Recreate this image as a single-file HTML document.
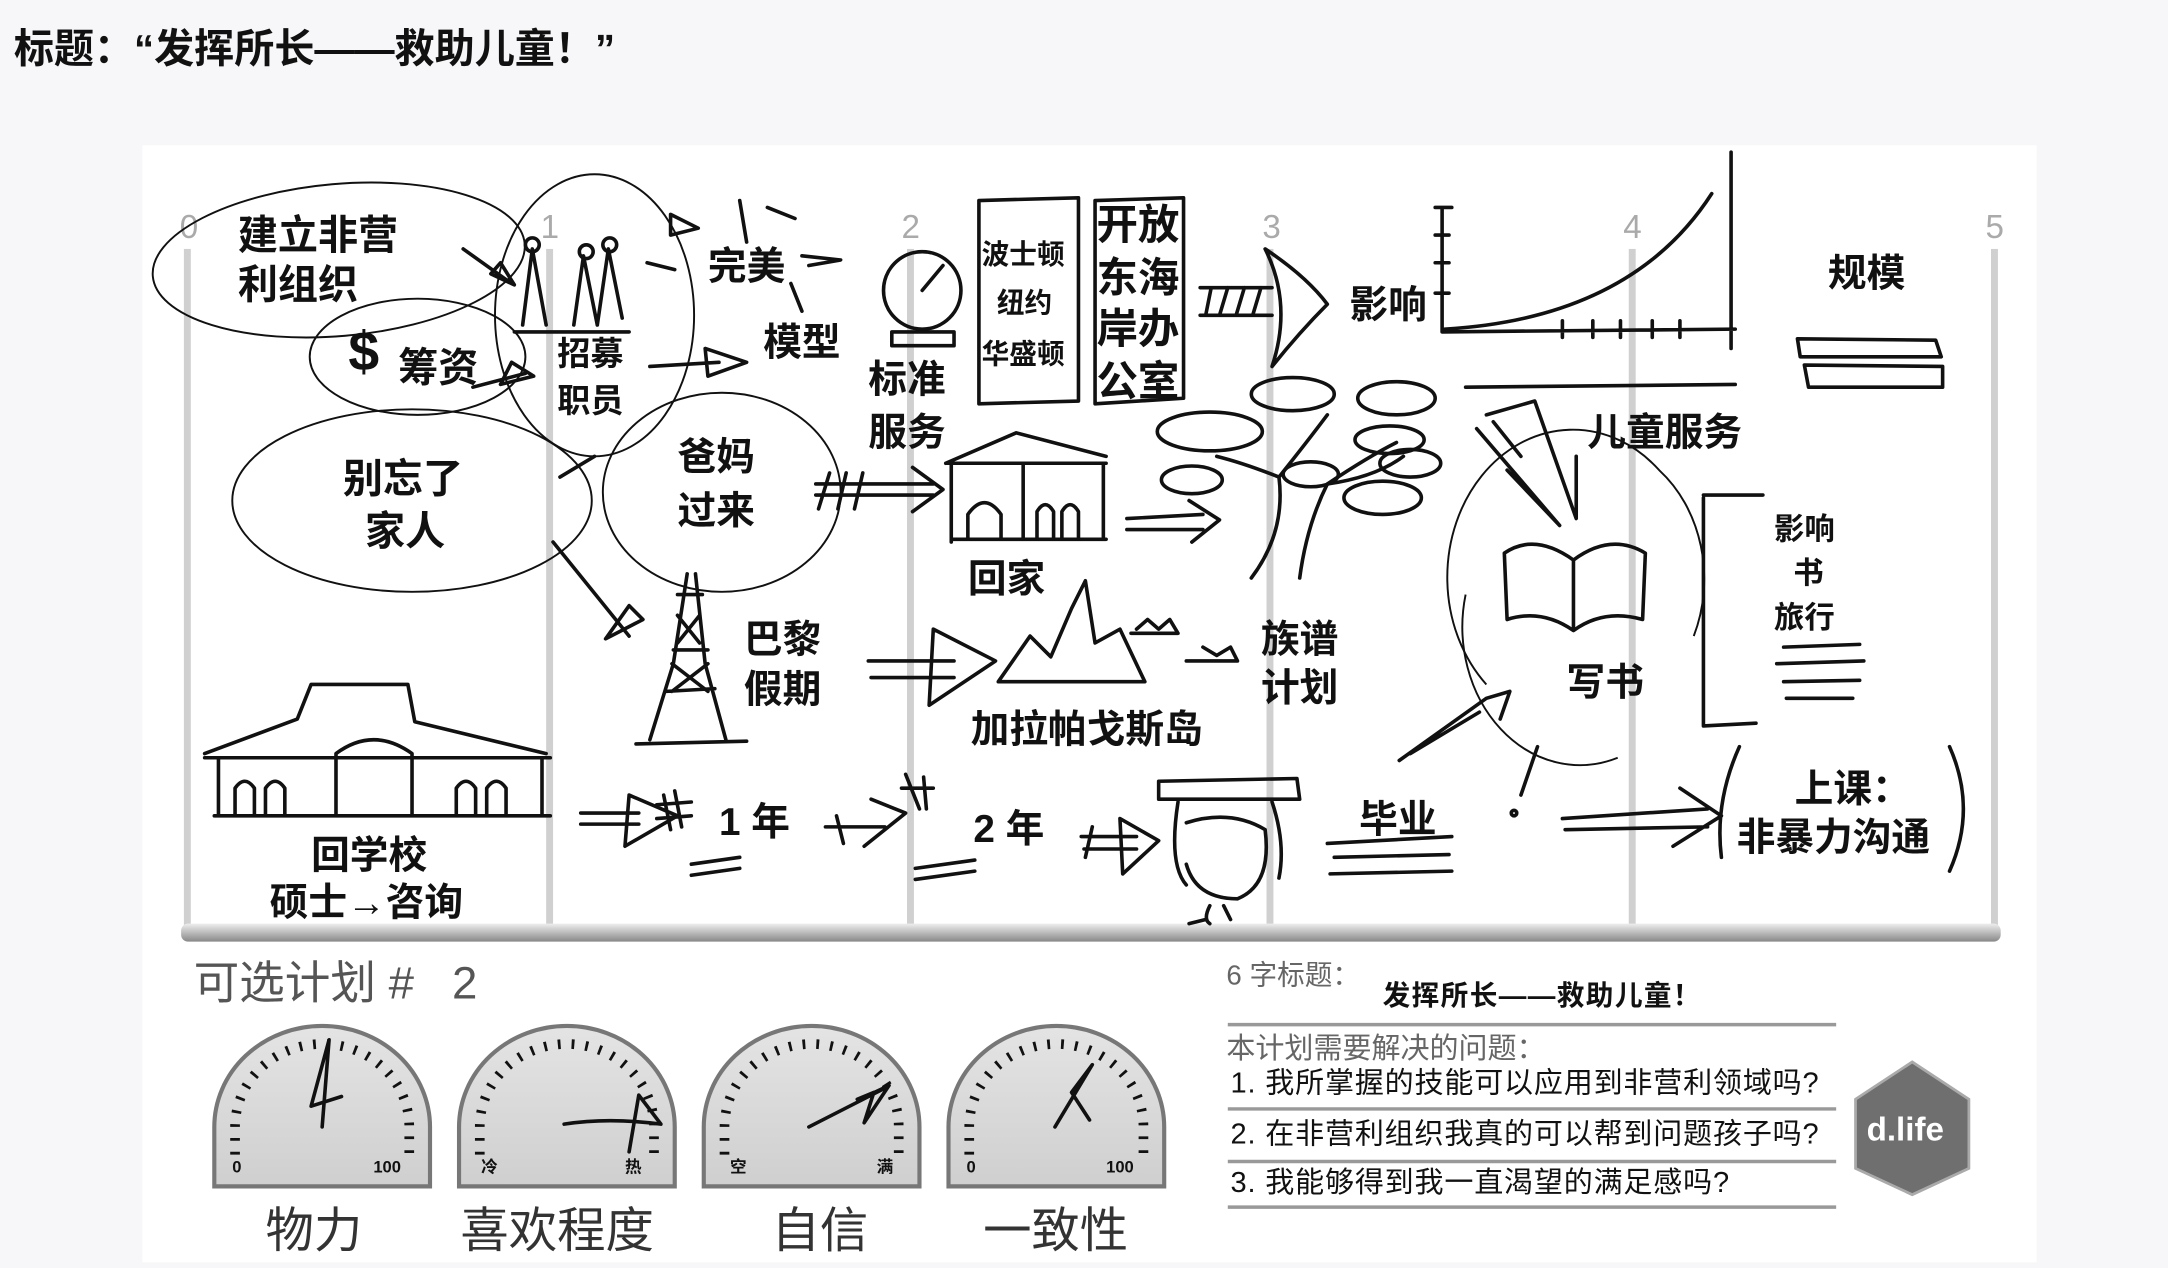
<!DOCTYPE html>
<html><head><meta charset="utf-8">
<style>
html,body{margin:0;padding:0;background:#f7f7f9;}
svg{display:block;}
.t{font-family:"Liberation Sans","Noto Sans CJK SC","WenQuanYi Zen Hei",sans-serif;font-weight:bold;fill:#111;}
.n{font-family:"Liberation Sans","Noto Sans CJK SC",sans-serif;font-weight:normal;}
.s{fill:none;stroke:#111;stroke-width:2.6;stroke-linecap:round;stroke-linejoin:round;}
.th{fill:none;stroke:#111;stroke-width:1.4;}
</style></head>
<body>
<svg width="2168" height="1268" viewBox="0 0 1568 917" xmlns="http://www.w3.org/2000/svg">
<rect width="1568" height="917" fill="#f7f7f9"/>
<text x="10" y="45" class="t" font-size="29">标题：“发挥所长——救助儿童！”</text>
<rect x="103" y="105" width="1370" height="808" fill="#fff"/>

<g fill="#d0d0d0">
<rect x="133" y="180" width="5" height="495"/><rect x="395" y="180" width="5" height="495"/>
<rect x="656" y="180" width="5" height="495"/><rect x="916" y="180" width="5" height="495"/>
<rect x="1178" y="180" width="5" height="495"/><rect x="1440" y="180" width="5" height="495"/>
</g>
<defs><linearGradient id="bar" x1="0" y1="0" x2="0" y2="1"><stop offset="0" stop-color="#eee"/><stop offset="0.5" stop-color="#bbb"/><stop offset="1" stop-color="#888"/></linearGradient>
<linearGradient id="g" x1="0" y1="0" x2="0" y2="1"><stop offset="0" stop-color="#e4e4e4"/><stop offset="1" stop-color="#cfcfcf"/></linearGradient></defs>
<rect x="131" y="668" width="1316" height="13" rx="5" fill="url(#bar)"/>
<g class="n" font-size="24" fill="#aaa">
<text x="130" y="172">0</text><text x="391" y="172">1</text><text x="652" y="172">2</text><text x="913" y="172">3</text><text x="1174" y="172">4</text><text x="1436" y="172">5</text>
</g>

<g class="th">
<ellipse cx="245" cy="188" rx="135" ry="55" transform="rotate(-5 245 188)"/>
<ellipse cx="302" cy="258" rx="78" ry="42"/>
<ellipse cx="430" cy="228" rx="72" ry="102"/>
<ellipse cx="298" cy="362" rx="130" ry="66"/>
<ellipse cx="522" cy="356" rx="86" ry="72"/>
<path d="M1075 495 A85 100 0 0 1 1200 340 A85 100 0 0 1 1225 460"/>
<path d="M1060 430 A85 100 0 0 0 1170 548"/>
</g>

<g class="t" font-size="29">
<text x="172" y="180">建立非营</text><text x="172" y="216">利组织</text>
<text x="288" y="276">筹资</text>
<text x="248" y="356">别忘了</text><text x="264" y="394">家人</text>
</g>
<text x="252" y="268" class="t" font-size="40" font-weight="normal">$</text>
<g class="t" font-size="24">
<text x="403" y="264">招募</text><text x="403" y="298">职员</text>
</g>
<g class="t" font-size="28">
<text x="512" y="202">完美</text><text x="552" y="257">模型</text>
<text x="628" y="284">标准</text><text x="628" y="322">服务</text>
<text x="490" y="340">爸妈</text><text x="490" y="379">过来</text>
<text x="700" y="428">回家</text>
<text x="538" y="472">巴黎</text><text x="538" y="508">假期</text>
<text x="702" y="537">加拉帕戈斯岛</text>
<text x="912" y="472">族谱</text><text x="912" y="507">计划</text>
<text x="225" y="628">回学校</text>
<text x="195" y="662">硕士→咨询</text>
<text x="520" y="604">1 年</text><text x="704" y="609">2 年</text>
<text x="983" y="602">毕业</text>
<text x="976" y="230">影响</text>
<text x="1322" y="207">规模</text>
<text x="1148" y="322">儿童服务</text>
<text x="1133" y="503">写书</text>
<text x="1298" y="580">上课：</text>
<text x="1256" y="615">非暴力沟通</text>
</g>
<g class="t" font-size="22">
<text x="1283" y="390">影响</text><text x="1297" y="422">书</text><text x="1283" y="454">旅行</text>
</g>
<path class="s" d="M708 145 L780 143 L780 290 L708 292 Z"/>
<path class="s" d="M792 145 L856 143 L856 288 L792 292 Z"/>
<g class="t" font-size="20">
<text x="710" y="191">波士顿</text><text x="721" y="226">纽约</text><text x="710" y="263">华盛顿</text>
</g>
<g class="t" font-size="30">
<text x="793" y="173">开放</text><text x="793" y="211">东海</text><text x="793" y="248">岸办</text><text x="793" y="286">公室</text>
</g>

<g class="s">
<circle cx="667" cy="210" r="28"/><path d="M667 210 L682 192 M645 240 L690 240 L690 250 L645 250 Z"/>
<path d="M378 235 L385 180 L395 235 M415 235 L422 185 L432 235 M432 235 L440 180 L450 230 M372 240 L455 240"/>
<circle cx="385" cy="177" r="5"/><circle cx="424" cy="182" r="5"/><circle cx="441" cy="177" r="5"/>
<path d="M335 180 L370 205 M355 198 L372 206 L362 190Z"/>
<path d="M470 265 L520 262 M510 252 L540 262 L512 272Z"/>
<path d="M342 280 L380 270 M362 278 L386 272 L370 262Z"/>
<path d="M485 155 L505 165 L485 170Z M555 150 L575 158 M580 185 L608 188 L585 192 M468 190 L488 195 M535 145 L540 175 M572 205 L580 225"/>
<path d="M405 345 L430 330"/>
<path d="M590 350 L675 350 M590 358 L675 358 M660 338 L682 354 L660 370 M600 342 L592 368 M612 342 L606 368 M624 342 L618 368"/>
<path d="M684 335 L735 313 L800 330 M684 335 L800 335 M688 335 L688 392 M798 335 L798 390 M688 390 L800 390 M700 390 L700 372 Q712 355 724 372 L724 390 M750 390 L750 370 Q756 360 762 370 L762 390 M768 390 L768 370 Q774 360 780 370 L780 390 M740 335 L740 390"/>
<path d="M905 418 Q930 385 925 345 Q945 320 960 300 M940 418 Q945 380 960 350 Q990 330 1010 320 M925 345 Q900 335 880 330 M960 350 Q995 345 1015 330"/>
<ellipse cx="875" cy="312" rx="38" ry="14"/><ellipse cx="935" cy="285" rx="30" ry="12"/><ellipse cx="1010" cy="288" rx="28" ry="12"/>
<ellipse cx="1005" cy="318" rx="25" ry="10"/><ellipse cx="1020" cy="335" rx="22" ry="10"/><ellipse cx="862" cy="347" rx="22" ry="10"/><ellipse cx="1000" cy="360" rx="28" ry="12"/><ellipse cx="948" cy="343" rx="20" ry="9"/>
<path d="M815 375 L870 372 M815 383 L870 383 M860 362 L882 376 L862 392"/>
<path d="M868 208 L920 208 M868 228 L920 228 M876 208 L872 228 M888 208 L882 228 M900 208 L894 228 M912 208 L906 228 M915 180 Q945 200 960 220 Q940 240 920 265 Q935 220 915 180Z"/>
<path d="M1043 150 L1043 240 L1255 238 M1038 150 L1050 150 M1038 170 L1048 170 M1038 190 L1048 190 M1038 212 L1048 212 M1045 238 Q1180 230 1238 140 M1252 110 L1252 252 M1130 232 L1130 244 M1152 232 L1152 244 M1172 232 L1172 244 M1195 232 L1195 244 M1215 232 L1215 244"/>
<path d="M1060 280 L1255 278"/>
<path d="M1300 245 L1400 246 L1404 258 L1302 258 Z M1305 264 L1405 265 L1405 280 L1308 280 Z"/>
<path d="M1075 300 L1110 290 L1140 375 L1140 330 M1068 310 L1128 380 L1090 340 M1080 305 L1100 330"/>
<path d="M1088 400 Q1110 385 1138 405 Q1165 385 1190 400 L1188 448 Q1160 440 1138 456 Q1115 440 1090 448 Z M1138 405 L1138 456"/>
<path d="M1232 360 L1232 525 M1232 358 L1275 358 M1232 525 L1270 523 M1290 468 L1345 466 M1285 480 L1348 478 M1290 493 L1345 492 M1292 505 L1340 505"/>
<path d="M497 415 L487 480 L470 535 M503 415 L510 480 L525 535 M460 538 L540 536 M490 430 L508 430 M487 470 L512 470 M482 500 L517 498 M490 445 L506 465 M506 445 L490 465 M486 480 L512 500 M512 480 L486 500"/>
<path d="M400 392 L455 460 M438 462 L465 448 L455 438 Z"/>
<path d="M628 478 L690 478 M630 490 L690 490 M675 455 L720 478 L672 510 Z"/>
<path d="M722 493 L745 460 L760 475 L775 440 L785 420 L792 465 L810 455 L828 493 Z M818 458 L852 458 L846 448 L838 455 L830 448 L822 455 M858 478 L895 478 L890 468 L880 474 L870 468"/>
<path d="M148 545 L215 520 L225 495 L295 495 L300 522 L395 545 M148 548 L398 548 M158 548 L158 590 M392 548 L392 590 M155 590 L398 590 M243 590 L243 545 Q270 525 298 545 L298 590 M170 590 L170 570 Q177 560 184 570 L184 590 M192 590 L192 570 Q199 560 206 570 L206 590 M330 590 L330 570 Q337 560 344 570 L344 590 M352 590 L352 570 Q359 560 366 570 L366 590"/>
<path d="M420 588 L462 588 M420 596 L462 596 M455 575 L490 590 L452 612 Z M480 575 L485 600 M488 572 L493 598 M475 582 L500 580 M475 592 L500 590 M500 625 L535 620 M500 633 L535 628"/>
<path d="M597 598 L640 598 M630 578 L655 588 L625 612 M605 590 L610 610 M655 560 L665 585 M668 562 L670 585 M652 570 L675 570 M662 628 L705 622 M662 636 L705 630"/>
<path d="M782 605 L822 605 M784 614 L822 614 M790 598 L785 620 M810 592 L838 608 L812 632 Z"/>
<path d="M838 565 L938 563 L940 578 L838 578 Z M852 580 Q845 625 858 640 M920 580 Q930 610 925 635 M858 595 Q890 585 915 600 Q920 640 895 650 Q865 650 858 625 M875 655 Q870 665 875 668 M885 655 L890 665 M872 665 L860 668"/>
<path d="M960 610 L1050 605 M965 620 L1048 618 M962 632 L1050 630"/>
<path d="M1012 550 L1075 505 L1092 500 L1085 520 M1020 545 L1070 515"/>
<path d="M1112 540 L1100 575"/><circle cx="1095" cy="588" r="2"/>
<path d="M1130 592 L1235 585 M1132 600 L1235 598 M1215 570 L1245 590 L1210 612"/>
<path d="M1258 540 Q1240 580 1245 620 M1410 540 Q1430 585 1410 630"/>
</g>

<text x="140" y="722" class="n" font-size="33" fill="#555">可选计划 #&#160;&#160;&#160;2</text>
<g stroke="#777" stroke-width="3" fill="url(#g)">
<path d="M155 858 L155 815 A78 73 0 0 1 311 815 L311 858 Z"/>
<path d="M332 858 L332 815 A78 73 0 0 1 488 815 L488 858 Z"/>
<path d="M509 858 L509 815 A78 73 0 0 1 665 815 L665 858 Z"/>
<path d="M686 858 L686 815 A78 73 0 0 1 842 815 L842 858 Z"/>
</g>
<g stroke="#111" stroke-width="7" stroke-dasharray="2 8" fill="none">
<path d="M170 835 L170 815 A63 60 0 0 1 296 815 L296 835"/>
<path d="M347 835 L347 815 A63 60 0 0 1 473 815 L473 835"/>
<path d="M524 835 L524 815 A63 60 0 0 1 650 815 L650 835"/>
<path d="M701 835 L701 815 A63 60 0 0 1 827 815 L827 835"/>
</g>
<g class="s">
<path d="M233 815 L238 752 L225 800 L247 793"/>
<path d="M408 813 Q440 808 478 813 L462 792 L455 833"/>
<path d="M585 815 L640 787 L620 795 L632 790 L625 812 L643 785 L622 795"/>
<path d="M763 815 L790 770 L775 790 L788 810"/>
</g>
<g class="t" font-size="12">
<text x="168" y="848">0</text><text x="270" y="848">100</text>
<text x="348" y="848">冷</text><text x="452" y="848">热</text>
<text x="528" y="848">空</text><text x="634" y="848">满</text>
<text x="699" y="848">0</text><text x="800" y="848">100</text>
</g>
<g class="n" font-size="35" fill="#333">
<text x="192" y="902">物力</text><text x="333" y="902">喜欢程度</text><text x="558" y="902">自信</text><text x="711" y="902">一致性</text>
</g>
<text x="887" y="712" class="n" font-size="20" fill="#666">6 字标题：</text>
<text x="1000" y="727" class="t" font-size="20" font-weight="normal" letter-spacing="1">发挥所长——救助儿童！</text>
<g stroke="#999" stroke-width="2.5"><path d="M888 741 L1328 741 M888 802 L1328 802 M888 840 L1328 840 M888 873 L1328 873"/></g>
<text x="887" y="765" class="n" font-size="21" fill="#666">本计划需要解决的问题：</text>
<g class="n" font-size="21" fill="#111" letter-spacing="0.6">
<text x="890" y="790">1. 我所掌握的技能可以应用到非营利领域吗?</text>
<text x="890" y="827">2. 在非营利组织我真的可以帮到问题孩子吗?</text>
<text x="890" y="862">3. 我能够得到我一直渴望的满足感吗?</text>
</g>
<path d="M1383 768 L1424 795 L1424 845 L1383 864 L1342 845 L1342 795 Z" fill="#6f6f6f" stroke="#aaa" stroke-width="2"/>
<text x="1350" y="825" font-family="Liberation Sans,sans-serif" font-weight="bold" font-size="24" fill="#fff">d.life</text>
</svg>
</body></html>
